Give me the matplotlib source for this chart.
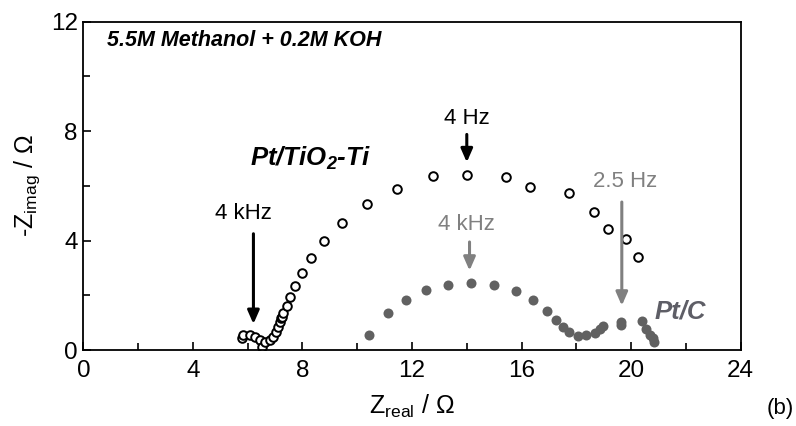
import matplotlib
matplotlib.use('Agg')
import matplotlib.pyplot as plt
from matplotlib.ticker import MultipleLocator

plt.rcParams['font.family'] = ['Liberation Sans', 'DejaVu Sans']
plt.rcParams['mathtext.default'] = 'regular'

# Pt/TiO2-Ti (open circles)
ti_real = [5.78, 5.84, 6.09, 6.27, 6.45, 6.51, 6.62, 6.82, 6.94, 7.04, 7.12, 7.18,
           7.21, 7.24, 7.28, 7.43, 7.55, 7.73, 7.97, 8.31, 8.80, 9.43, 10.35, 11.44,
           12.76, 14.00, 15.42, 16.31, 17.73, 18.64, 19.15, 19.81, 20.26]
ti_imag = [0.43, 0.55, 0.55, 0.46, 0.37, 0.12, 0.30, 0.37, 0.49, 0.67, 0.85, 1.03,
           1.16, 1.22, 1.34, 1.61, 1.93, 2.34, 2.80, 3.35, 3.98, 4.63, 5.34, 5.88,
           6.37, 6.40, 6.31, 5.97, 5.75, 5.03, 4.42, 4.05, 3.39]

# Pt/C (filled grey circles)
c_real = [10.44, 11.11, 11.78, 12.51, 13.33, 14.14, 14.99, 15.80, 16.43, 16.92,
          17.25, 17.50, 17.74, 18.07, 18.35, 18.68, 18.86, 18.98, 19.63, 19.63,
          20.39, 20.54, 20.69, 20.79, 20.85]
c_imag = [0.54, 1.34, 1.83, 2.19, 2.38, 2.44, 2.38, 2.16, 1.83, 1.44,
          1.10, 0.85, 0.67, 0.52, 0.55, 0.61, 0.76, 0.89, 1.03, 0.91,
          1.07, 0.77, 0.55, 0.43, 0.30]

fig = plt.figure(figsize=(7.96, 4.26), dpi=100)
ax = fig.add_axes([0.1047, 0.1784, 0.8258, 0.7707])

ax.plot(ti_real, ti_imag, 'o', ms=6.2, mfc='white', mec='black', mew=1.4)
ax.plot(c_real, c_imag, 'o', ms=7.2, color='#616161', mec='none')

ax.set_xlim(0, 24)
ax.set_ylim(0, 12)
ax.xaxis.set_major_locator(MultipleLocator(4))
ax.xaxis.set_minor_locator(MultipleLocator(2))
ax.yaxis.set_major_locator(MultipleLocator(4))
ax.yaxis.set_minor_locator(MultipleLocator(2))
ax.tick_params(which='both', direction='in', labelsize=17.5, width=1.2)
ax.tick_params(which='major', length=6, pad=4)
ax.tick_params(axis='x', which='major', pad=7)
ax.tick_params(which='minor', length=5)
for s in ax.spines.values():
    s.set_linewidth(1.3)

ax.set_xlabel(r'Z$_{real}$ / Ω', fontsize=18, labelpad=8)
ax.set_ylabel(r'-Z$_{imag}$ / Ω', fontsize=18, labelpad=6)

ax.text(0.85, 11.3, '5.5M Methanol + 0.2M KOH', fontsize=15.5, fontweight='bold',
        fontstyle='italic', va='center', ha='left')
ax.text(8.3, 7.0, r'Pt/TiO$_2$-Ti', fontsize=18.5, fontweight='bold',
        fontstyle='italic', va='center', ha='center')
ax.text(21.8, 1.4, 'Pt/C', fontsize=18.5, fontweight='bold', fontstyle='italic',
        va='center', ha='center', color='#5e5e66')

black_arrow = dict(arrowstyle='-|>,head_length=0.8,head_width=0.35', color='black', lw=2.2)
grey_arrow = dict(arrowstyle='-|>,head_length=0.8,head_width=0.35', color='#808080', lw=2.2)

ax.text(5.84, 5.0, '4 kHz', fontsize=16, ha='center', va='center')
ax.annotate('', xy=(6.21, 0.85), xytext=(6.21, 4.35), arrowprops=black_arrow)

ax.text(14.0, 8.47, '4 Hz', fontsize=16, ha='center', va='center')
ax.annotate('', xy=(14.0, 6.76), xytext=(14.0, 7.98), arrowprops=black_arrow)

ax.text(14.0, 4.57, '4 kHz', fontsize=16, ha='center', va='center', color='#808080')
ax.annotate('', xy=(14.1, 2.8), xytext=(14.1, 4.05), arrowprops=grey_arrow)

ax.text(19.78, 6.15, '2.5 Hz', fontsize=16, ha='center', va='center', color='#808080')
ax.annotate('', xy=(19.66, 1.52), xytext=(19.66, 5.51), arrowprops=grey_arrow)

fig.text(0.98, 0.04, '(b)', fontsize=16, ha='center', va='center')

fig.savefig('out.png', dpi=100)
